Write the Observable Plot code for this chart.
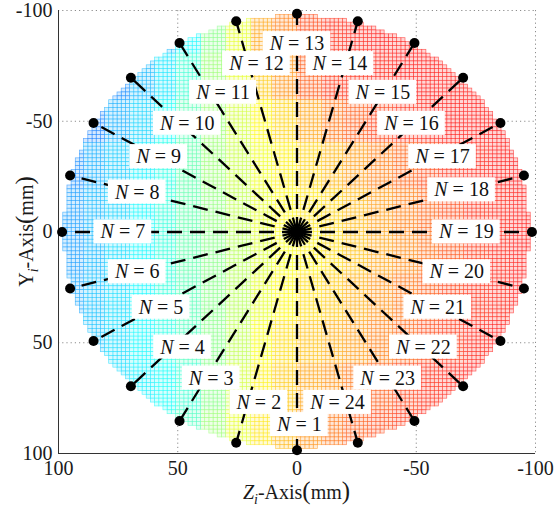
<!DOCTYPE html>
<html><head><meta charset="utf-8">
<script src="https://cdn.jsdelivr.net/npm/d3@7"></script>
<script src="https://cdn.jsdelivr.net/npm/@observablehq/plot@0.6"></script>
<style>body{margin:0;background:#fff}</style>
</head><body><div id="chart"></div>
<script>
// ---- data ----
const xTicks = [100, 50, 0, -50, -100];
const yTicks = [-100, -50, 0, 50, 100];
const spokeN = [1,2,3,4,5,6,7,8,9,10,11,12,13,14,15,16,17,18,19,20,21,22,23,24];
const spokeAngleDeg = [0,15,30,45,60,75,90,105,120,135,150,165,180,195,210,225,240,255,270,285,300,315,330,345];
const spokeRadius = 98.5;
const labelZ = [-1, 16, 36, 48, 57, 67, 73, 67, 58, 46, 31, 17, 0, -18, -36, -48, -61, -69, -71, -67, -59, -53, -38, -17];
const labelY = [87, 77, 66, 52, 34, 18, 0, -18, -34, -49, -63, -76, -85, -76, -63, -49, -34, -19, 0, 18, 34, 52, 66, 77];
// field value (0..1 on a jet colormap), blocks of 10 mm in Z (from +100 to -100) and 20 mm in Y (from -100 to 100)
const blockZEdges = [100,90,80,70,60,50,40,30,20,10,0,-10,-20,-30,-40,-50,-60,-70,-80,-90,-100];
const blockYEdges = [-100,-80,-60,-40,-20,0,20,40,60,80,100];
const fieldValues = [
  [0.22,0.22,0.24,0.26,0.3,0.37,0.5,0.6,0.72,0.76,0.82,0.85,0.86,0.87,0.87,0.87,0.87,0.87,0.87,0.87],
  [0.22,0.24,0.25,0.3,0.35,0.42,0.52,0.6,0.68,0.74,0.8,0.84,0.85,0.86,0.87,0.87,0.87,0.87,0.87,0.87],
  [0.23,0.24,0.29,0.33,0.38,0.45,0.52,0.58,0.63,0.67,0.72,0.77,0.8,0.83,0.85,0.86,0.87,0.87,0.88,0.88],
  [0.25,0.29,0.32,0.36,0.4,0.46,0.52,0.57,0.61,0.64,0.67,0.7,0.73,0.76,0.79,0.82,0.85,0.86,0.87,0.88],
  [0.27,0.3,0.33,0.37,0.41,0.46,0.51,0.56,0.6,0.63,0.65,0.67,0.7,0.73,0.76,0.79,0.82,0.85,0.86,0.87],
  [0.27,0.3,0.34,0.37,0.41,0.46,0.5,0.55,0.59,0.62,0.64,0.66,0.69,0.72,0.75,0.78,0.81,0.84,0.86,0.87],
  [0.28,0.31,0.34,0.37,0.41,0.45,0.5,0.55,0.6,0.63,0.66,0.68,0.71,0.74,0.77,0.8,0.83,0.85,0.86,0.87],
  [0.29,0.31,0.34,0.37,0.4,0.44,0.5,0.56,0.62,0.66,0.69,0.71,0.73,0.76,0.79,0.82,0.84,0.86,0.87,0.87],
  [0.31,0.33,0.34,0.36,0.38,0.42,0.5,0.58,0.64,0.68,0.72,0.74,0.77,0.8,0.83,0.85,0.86,0.87,0.87,0.87],
  [0.35,0.37,0.38,0.39,0.4,0.44,0.52,0.6,0.65,0.7,0.74,0.77,0.8,0.82,0.84,0.86,0.87,0.87,0.87,0.87]
];
const discRadius = 97.5;
const cellSize = 1.75;
// jet colormap stops
const jetStops = [0, 0.125, 0.375, 0.625, 0.875, 1];
const jetColors = ["#000090", "#0000ff", "#00ffff", "#ffff00", "#ff0000", "#800000"];

// ---- build tables ----
const jet = d3.scaleLinear().domain(jetStops).range(jetColors).interpolate(d3.interpolateRgb).clamp(true);
const blockIndex = (edges, v) => { for (let k = 0; k < edges.length - 1; k++) { const a = Math.min(edges[k], edges[k+1]), b = Math.max(edges[k], edges[k+1]); if (v >= a && v <= b) return k; } return 0; };
const cells = [];
const nHalf = Math.ceil(discRadius / cellSize) + 1;
for (let i = -nHalf; i < nHalf; i++) {
  for (let j = -nHalf; j < nHalf; j++) {
    const zc = (i + 0.5) * cellSize, yc = (j + 0.5) * cellSize;
    if (Math.hypot(zc, yc) > discRadius) continue;
    const v = fieldValues[blockIndex(blockYEdges, yc)][blockIndex(blockZEdges, zc)];
    const c = jet(v);
    cells.push({z1: zc - cellSize/2, z2: zc + cellSize/2, y1: yc - cellSize/2, y2: yc + cellSize/2,
      line: c, fillc: d3.interpolateRgb("#ffffff", c)(0.16)});
  }
}
const spokes = spokeN.map((n, k) => {
  const t = spokeAngleDeg[k] * Math.PI / 180;
  return {n, z: spokeRadius * Math.sin(t), y: spokeRadius * Math.cos(t)};
});
const labels = spokeN.map((n, k) => ({text: `N = ${n}`, z: labelZ[k], y: labelY[k]}));

const FONT = "Liberation Serif, DejaVu Serif, Noto Serif, serif";
const svg = Plot.plot({
  width: 554, height: 510,
  marginLeft: 58, marginRight: 19, marginTop: 10, marginBottom: 57,
  style: {background: "white", color: "#1a1a1a"},
  x: {domain: [100, -100]},
  y: {domain: [100, -100]},
  color: {type: "identity"},
  marks: [
    Plot.gridX(xTicks, {stroke: "#8c8c8c", strokeOpacity: 1, strokeDasharray: "1.2,3"}),
    Plot.gridY(yTicks, {stroke: "#8c8c8c", strokeOpacity: 1, strokeDasharray: "1.2,3"}),
    Plot.rect(cells, {x1: "z1", x2: "z2", y1: "y1", y2: "y2", fill: "fillc", stroke: "line", strokeWidth: 0.7, strokeOpacity: 0.6}),
    Plot.ruleX([100], {stroke: "#333", strokeWidth: 1}),
    Plot.ruleY([100], {stroke: "#333", strokeWidth: 1}),
    Plot.link(spokes, {x1: () => 0, y1: () => 0, x2: "z", y2: "y", stroke: "black", strokeWidth: 2.3, strokeDasharray: "15,8"}),
    Plot.dot(spokes, {x: "z", y: "y", r: 5, fill: "black", stroke: null}),
    Plot.axisX(xTicks, {tickSize: 0, tickPadding: 7, tickFormat: d => String(d), label: null, fontSize: 20}),
    Plot.axisY(yTicks, {tickSize: 0, tickPadding: 6, tickFormat: d => String(d), label: null, fontSize: 20}),
    Plot.text(labels, {x: "z", y: "y", text: "text", fontSize: 20, fill: "#111"})
  ]
});
document.getElementById("chart").append(svg);
const root = d3.select(svg);

// white boxes behind labels, italic N
const NS = "http://www.w3.org/2000/svg";
root.selectAll("text").style("font-family", FONT).attr("font-family", FONT);
root.selectAll('g[aria-label="text"] text').each(function() {
  const str = this.textContent;
  const t = d3.select(this);
  t.text(null);
  t.append("tspan").attr("font-style", "italic").text(str.slice(0, 1));
  t.append("tspan").text(str.slice(1));
  const b = this.getBBox();
  const rect = document.createElementNS(NS, "rect");
  rect.setAttribute("x", b.x - 6);
  rect.setAttribute("y", b.y - 1);
  rect.setAttribute("width", b.width + 12);
  rect.setAttribute("height", b.height + 2);
  rect.setAttribute("fill", "white");
  rect.setAttribute("stroke", "none");
  if (this.getAttribute("transform")) rect.setAttribute("transform", this.getAttribute("transform"));
  this.parentNode.insertBefore(rect, this);
});

// axis titles
const sx = svg.scale("x"), sy = svg.scale("y");
const xt = root.append("text").attr("x", sx.apply(0)).attr("y", 499).attr("text-anchor", "middle").attr("font-size", 20).attr("fill", "#1a1a1a").style("font-family", FONT);
xt.append("tspan").attr("font-style", "italic").text("Z");
xt.append("tspan").attr("font-style", "italic").attr("font-size", 14).attr("dy", 5).text("i");
xt.append("tspan").attr("dy", -5).text("-Axis");
xt.append("tspan").attr("font-size", 25).text("(");
xt.append("tspan").text("mm");
xt.append("tspan").attr("font-size", 25).text(")");
const yt = root.append("text").attr("transform", `translate(33,${sy.apply(0)}) rotate(-90)`).attr("text-anchor", "middle").attr("font-size", 20).attr("fill", "#1a1a1a").style("font-family", FONT);
yt.append("tspan").text("Y");
yt.append("tspan").attr("font-style", "italic").attr("font-size", 14).attr("dy", 5).text("i");
yt.append("tspan").attr("dy", -5).text("-Axis");
yt.append("tspan").attr("font-size", 25).text("(");
yt.append("tspan").text("mm");
yt.append("tspan").attr("font-size", 25).text(")");
</script>
</body></html>
